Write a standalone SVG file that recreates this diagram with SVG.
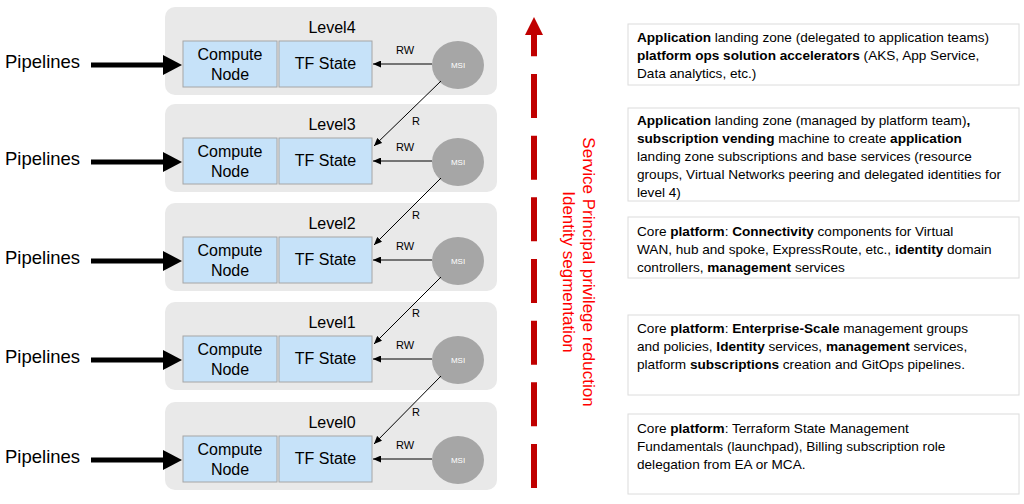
<svg xmlns="http://www.w3.org/2000/svg" width="1024" height="504" viewBox="0 0 1024 504">
<style>
text{font-family:"Liberation Sans",Arial,sans-serif;fill:#000}
.panel{fill:#e9e9e9}
.box{fill:#c6e2f9;stroke:#a6a6a6;stroke-width:1}
.msi{fill:#a6a6a6}
.msit{font-size:8px;fill:#fff;text-anchor:middle}
.lvl{font-size:16px;text-anchor:middle}
.bt{font-size:16px;text-anchor:middle}
.pipe{font-size:18.5px}
.thin{stroke:#000;stroke-width:1;fill:none;marker-end:url(#ah)}
.thick{stroke:#000;stroke-width:5;fill:none}
.lab{font-size:11px;text-anchor:middle}
.desc{fill:#fff;stroke:#dcdcdc;stroke-width:1}
.dt{font-size:13.6px}
.b{font-weight:bold}
.red{font-size:17px;fill:#ff0000;text-anchor:middle}
</style>
<defs>
<marker id="ah" markerUnits="userSpaceOnUse" markerWidth="8" markerHeight="7" refX="8" refY="3.5" orient="auto">
<path d="M0,0 L8,3.5 L0,7 z" fill="#000"/>
</marker>
</defs>
<rect width="1024" height="504" fill="#fff"/>

<g id="level4">
<rect class="panel" x="165" y="7" width="332" height="88" rx="10"/>
<text class="lvl" x="332" y="33">Level4</text>
<g id="compute4"><rect class="box" x="183" y="41" width="94" height="46"/><text class="bt" x="230" y="60">Compute</text><text class="bt" x="230" y="80">Node</text></g>
<g id="tf4"><rect class="box" x="279" y="41" width="93" height="46"/><text class="bt" x="325.5" y="69">TF State</text></g>
<g id="msi4"><ellipse class="msi" cx="458" cy="65" rx="26" ry="24"/><text class="msit" x="458" y="68">MSI</text></g>
</g>
<g id="level3">
<rect class="panel" x="165" y="104" width="332" height="88" rx="10"/>
<text class="lvl" x="332" y="130">Level3</text>
<g id="compute3"><rect class="box" x="183" y="138" width="94" height="46"/><text class="bt" x="230" y="157">Compute</text><text class="bt" x="230" y="177">Node</text></g>
<g id="tf3"><rect class="box" x="279" y="138" width="93" height="46"/><text class="bt" x="325.5" y="166">TF State</text></g>
<g id="msi3"><ellipse class="msi" cx="458" cy="162" rx="26" ry="24"/><text class="msit" x="458" y="165">MSI</text></g>
</g>
<g id="level2">
<rect class="panel" x="165" y="203" width="332" height="88" rx="10"/>
<text class="lvl" x="332" y="229">Level2</text>
<g id="compute2"><rect class="box" x="183" y="237" width="94" height="46"/><text class="bt" x="230" y="256">Compute</text><text class="bt" x="230" y="276">Node</text></g>
<g id="tf2"><rect class="box" x="279" y="237" width="93" height="46"/><text class="bt" x="325.5" y="265">TF State</text></g>
<g id="msi2"><ellipse class="msi" cx="458" cy="261" rx="26" ry="24"/><text class="msit" x="458" y="264">MSI</text></g>
</g>
<g id="level1">
<rect class="panel" x="165" y="302" width="332" height="88" rx="10"/>
<text class="lvl" x="332" y="328">Level1</text>
<g id="compute1"><rect class="box" x="183" y="336" width="94" height="46"/><text class="bt" x="230" y="355">Compute</text><text class="bt" x="230" y="375">Node</text></g>
<g id="tf1"><rect class="box" x="279" y="336" width="93" height="46"/><text class="bt" x="325.5" y="364">TF State</text></g>
<g id="msi1"><ellipse class="msi" cx="458" cy="360" rx="26" ry="24"/><text class="msit" x="458" y="363">MSI</text></g>
</g>
<g id="level0">
<rect class="panel" x="165" y="402" width="332" height="88" rx="10"/>
<text class="lvl" x="332" y="428">Level0</text>
<g id="compute0"><rect class="box" x="183" y="436" width="94" height="46"/><text class="bt" x="230" y="455">Compute</text><text class="bt" x="230" y="475">Node</text></g>
<g id="tf0"><rect class="box" x="279" y="436" width="93" height="46"/><text class="bt" x="325.5" y="464">TF State</text></g>
<g id="msi0"><ellipse class="msi" cx="458" cy="460" rx="26" ry="24"/><text class="msit" x="458" y="463">MSI</text></g>
</g>

<g id="pipelines">
<text class="pipe" x="5" y="68">Pipelines</text>
<text class="pipe" x="5" y="165">Pipelines</text>
<text class="pipe" x="5" y="264">Pipelines</text>
<text class="pipe" x="5" y="363">Pipelines</text>
<text class="pipe" x="5" y="463">Pipelines</text>
</g>

<g id="connectors">
<line class="thick" x1="91" y1="65" x2="165" y2="65"/><polygon points="163,55 182,65 163,75"/>
<line class="thick" x1="91" y1="162" x2="165" y2="162"/><polygon points="163,152 182,162 163,172"/>
<line class="thick" x1="91" y1="261" x2="165" y2="261"/><polygon points="163,251 182,261 163,271"/>
<line class="thick" x1="91" y1="360" x2="165" y2="360"/><polygon points="163,350 182,360 163,370"/>
<line class="thick" x1="91" y1="460" x2="165" y2="460"/><polygon points="163,450 182,460 163,470"/>

<line class="thin" x1="432" y1="64" x2="373" y2="64"/>
<line class="thin" x1="432" y1="161" x2="373" y2="161"/>
<line class="thin" x1="432" y1="260" x2="373" y2="260"/>
<line class="thin" x1="432" y1="359" x2="373" y2="359"/>
<line class="thin" x1="432" y1="459" x2="373" y2="459"/>
<text class="lab" x="405" y="54">RW</text>
<text class="lab" x="405" y="151">RW</text>
<text class="lab" x="405" y="250">RW</text>
<text class="lab" x="405" y="349">RW</text>
<text class="lab" x="405" y="449">RW</text>

<line class="thin" x1="441" y1="81" x2="374" y2="146"/>
<line class="thin" x1="441" y1="178" x2="374" y2="245"/>
<line class="thin" x1="441" y1="277" x2="374" y2="344"/>
<line class="thin" x1="441" y1="376" x2="374" y2="444"/>
<text class="lab" x="416" y="125">R</text>
<text class="lab" x="416" y="219">R</text>
<text class="lab" x="416" y="317">R</text>
<text class="lab" x="416" y="416">R</text>
</g>

<g id="privilege-axis">
<line x1="534" y1="488" x2="534" y2="35" stroke="#c00000" stroke-width="6" stroke-dasharray="44 17.67"/>
<polygon points="525,35 534,17 543,35" fill="#c00000"/>
<text class="red" transform="translate(583,272) rotate(90)">Service Principal privilege reduction</text>
<text class="red" transform="translate(563,272) rotate(90)">Identity segmentation</text>
</g>

<g id="desc4">
<rect class="desc" x="628" y="24" width="391" height="61"/>
<text class="dt" x="637" y="42"><tspan class="b">Application</tspan> landing zone (delegated to application teams)</text>
<text class="dt" x="637" y="60"><tspan class="b">platform ops solution accelerators</tspan> (AKS, App Service,</text>
<text class="dt" x="637" y="78">Data analytics, etc.)</text>
</g>
<g id="desc3">
<rect class="desc" x="628" y="108" width="391" height="93"/>
<text class="dt" x="637" y="125"><tspan class="b">Application</tspan> landing zone (managed by platform team)<tspan class="b">,</tspan></text>
<text class="dt" x="637" y="143"><tspan class="b">subscription vending</tspan> machine to create <tspan class="b">application</tspan></text>
<text class="dt" x="637" y="161">landing zone subscriptions and base services (resource</text>
<text class="dt" x="637" y="179">groups, Virtual Networks peering and delegated identities for</text>
<text class="dt" x="637" y="197">level 4)</text>
</g>
<g id="desc2">
<rect class="desc" x="628" y="217" width="391" height="61"/>
<text class="dt" x="637" y="236">Core <tspan class="b">platform</tspan>: <tspan class="b">Connectivity</tspan> components for Virtual</text>
<text class="dt" x="637" y="254">WAN, hub and spoke, ExpressRoute, etc., <tspan class="b">identity</tspan> domain</text>
<text class="dt" x="637" y="272">controllers, <tspan class="b">management</tspan> services</text>
</g>
<g id="desc1">
<rect class="desc" x="628" y="315" width="391" height="80"/>
<text class="dt" x="637" y="333">Core <tspan class="b">platform</tspan>: <tspan class="b">Enterprise-Scale</tspan> management groups</text>
<text class="dt" x="637" y="351">and policies, <tspan class="b">Identity</tspan> services, <tspan class="b">management</tspan> services,</text>
<text class="dt" x="637" y="369">platform <tspan class="b">subscriptions</tspan> creation and GitOps pipelines.</text>
</g>
<g id="desc0">
<rect class="desc" x="628" y="414" width="391" height="80"/>
<text class="dt" x="637" y="433">Core <tspan class="b">platform</tspan>: Terraform State Management</text>
<text class="dt" x="637" y="451">Fundamentals (launchpad), Billing subscription role</text>
<text class="dt" x="637" y="469">delegation from EA or MCA.</text>
</g>
</svg>
